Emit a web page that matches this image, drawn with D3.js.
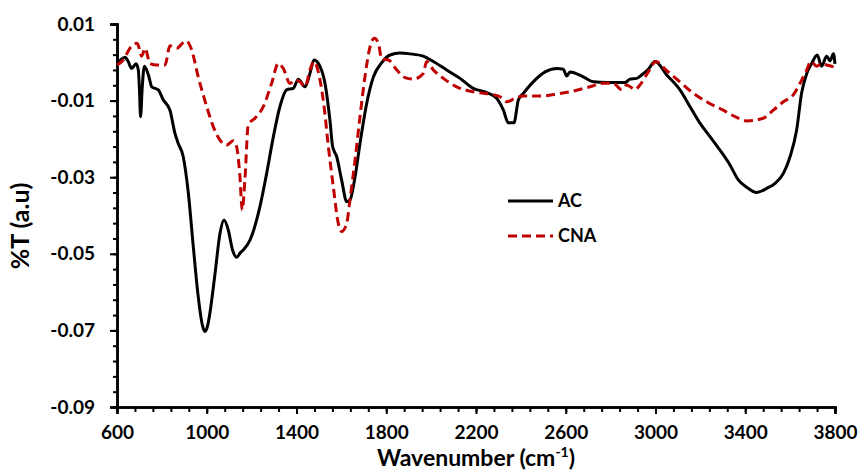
<!DOCTYPE html>
<html>
<head>
<meta charset="utf-8">
<script src="https://cdn.jsdelivr.net/npm/d3@7"></script>
<style>
  body { margin: 0; background: #fff; }
  text { font-family: Lato, "Open Sans", sans-serif; font-weight: bold; fill: #000; }
</style>
</head>
<body>
<div id="chart"></div>
<script>
// wavenumber / %T readings for each sample
var acWave = [600, 620, 636, 650, 665, 685, 695, 700, 705, 712, 722, 740, 755, 784, 806, 836, 858, 873, 895, 918,
    940, 962, 980, 992, 1005, 1014, 1037, 1059, 1077, 1096, 1115, 1133, 1150, 1163, 1193, 1237, 1267, 1297, 1326,
    1356, 1386, 1408, 1438, 1460, 1478, 1505, 1527, 1549, 1561, 1579, 1601, 1624, 1638, 1661, 1683, 1713, 1743,
    1780, 1817, 1861, 1906, 1965, 2010, 2069, 2129, 2188, 2248, 2292, 2322, 2344, 2369, 2389, 2411, 2455, 2508,
    2560, 2589, 2604, 2619, 2678, 2723, 2783, 2864, 2886, 2916, 2938, 2968, 2998, 3050, 3109, 3154, 3198, 3243,
    3287, 3332, 3369, 3406, 3451, 3496, 3533, 3570, 3600, 3629, 3651, 3674, 3696, 3721, 3740, 3763, 3778, 3793, 3800];
var acT = [-0.0003, 0.0008, 0.0013, 0.0002, -0.0016, -0.0004, -0.002, -0.007, -0.0142, -0.007, -0.001, -0.0033,
    -0.0064, -0.0072, -0.0098, -0.0125, -0.0185, -0.0212, -0.0246, -0.0342, -0.0481, -0.0612, -0.0685, -0.0703,
    -0.0685, -0.0655, -0.0551, -0.0447, -0.0412, -0.0438, -0.049, -0.0509, -0.0497, -0.049, -0.0464, -0.0377,
    -0.029, -0.0194, -0.0116, -0.0072, -0.0068, -0.0044, -0.0064, -0.0029, 0.0006, -0.0011, -0.0055, -0.0151,
    -0.022, -0.0246, -0.0307, -0.0364, -0.036, -0.0299, -0.0212, -0.0107, -0.0038, -0.0001, 0.0019, 0.0024, 0.0022,
    0.0016, 0.0002, -0.002, -0.0042, -0.0068, -0.0079, -0.0094, -0.0125, -0.0158, -0.0158, -0.0098, -0.0081,
    -0.0051, -0.0025, -0.0016, -0.0018, -0.0036, -0.0025, -0.0038, -0.0051, -0.0053, -0.0053, -0.0044, -0.0042,
    -0.0033, -0.0018, 0.0002, -0.0033, -0.0072, -0.0116, -0.0159, -0.0194, -0.0229, -0.0268, -0.0307, -0.0326,
    -0.034, -0.0329, -0.0316, -0.029, -0.0246, -0.0177, -0.0081, -0.0029, -0.0003, 0.0019, -0.001, 0.0016, 0.0004,
    0.0022, -0.0004];

var cnaWave = [600, 628, 658, 690, 710, 725, 747, 777, 814, 836, 866, 907, 933, 962, 1000, 1029, 1059, 1089, 1118,
    1133, 1148, 1158, 1170, 1185, 1215, 1252, 1289, 1319, 1341, 1371, 1393, 1416, 1438, 1460, 1478, 1502, 1523,
    1542, 1564, 1586, 1601, 1624, 1638, 1661, 1683, 1705, 1728, 1747, 1765, 1780, 1809, 1847, 1884, 1921, 1965,
    1980, 2010, 2055, 2114, 2188, 2262, 2307, 2337, 2374, 2411, 2485, 2560, 2634, 2708, 2767, 2812, 2849, 2871,
    2909, 2931, 2968, 3002, 3050, 3109, 3169, 3228, 3302, 3362, 3406, 3480, 3525, 3570, 3614, 3644, 3674, 3692,
    3718, 3740, 3763, 3800];
var cnaT = [-0.0007, 0.0006, 0.0037, 0.005, 0.0016, 0.0037, -0.0003, -0.0007, -0.0007, 0.0043, 0.0037, 0.0056,
    0.0032, -0.0038, -0.0116, -0.0168, -0.0203, -0.0216, -0.0205, -0.022, -0.0299, -0.0386, -0.0307, -0.0163,
    -0.0146, -0.0116, -0.0055, -0.0003, -0.0016, -0.0055, -0.0046, -0.0051, -0.0064, -0.002, 0.0002, -0.0038,
    -0.0116, -0.022, -0.0325, -0.042, -0.0442, -0.042, -0.036, -0.0255, -0.0142, -0.0038, 0.0041, 0.0063, 0.005,
    0.0008, 0.0006, -0.002, -0.004, -0.0044, -0.0029, 0.0002, -0.002, -0.0042, -0.0064, -0.0077, -0.0083, -0.009,
    -0.0103, -0.0094, -0.0088, -0.0088, -0.0083, -0.0075, -0.0064, -0.0055, -0.0055, -0.0071, -0.0059, -0.0071,
    -0.0059, -0.0025, 0.0002, -0.0022, -0.0051, -0.0081, -0.0103, -0.0125, -0.0144, -0.0153, -0.0146, -0.0125,
    -0.0103, -0.0085, -0.0055, -0.002, 0.0002, -0.001, -0.0004, -0.0007, -0.0013];

var xTicks = [600, 1000, 1400, 1800, 2200, 2600, 3000, 3400, 3800];
var yTicks = [0.01, -0.01, -0.03, -0.05, -0.07, -0.09];
var seriesNames = ["AC", "CNA"];

var width = 861, height = 472;
// plot box (note: "top" is reserved on window, so use plot* names)
var plotLeft = 117, plotRight = 835, plotTop = 24, plotBottom = 407;

var svg = d3.select("#chart").append("svg")
    .attr("width", width)
    .attr("height", height);

var x = d3.scaleLinear().domain([600, 3800]).range([plotLeft, plotRight]);
var y = d3.scaleLinear().domain([-0.09, 0.01]).range([plotBottom, plotTop]);

// minor ticks: 5 per major interval
var xMinor = d3.range(600, 3800.1, 80);
var yMinor = d3.range(0, 26).map(function (i) { return 0.01 - i * 0.004; });

var minorX = svg.append("g")
    .attr("transform", "translate(0," + plotBottom + ")")
    .call(d3.axisBottom(x).tickValues(xMinor).tickSize(5).tickFormat(""));
var minorY = svg.append("g")
    .attr("transform", "translate(" + plotLeft + ",0)")
    .call(d3.axisLeft(y).tickValues(yMinor).tickSize(4).tickFormat(""));

var xAxis = svg.append("g")
    .attr("transform", "translate(0," + plotBottom + ")")
    .call(d3.axisBottom(x).tickValues(xTicks).tickSize(7).tickPadding(12).tickFormat(d3.format("d")));
var yAxis = svg.append("g")
    .attr("transform", "translate(" + plotLeft + ",0)")
    .call(d3.axisLeft(y).tickValues(yTicks).tickSize(7).tickPadding(15)
        .tickFormat(function (d) { return d.toFixed(2); }));

[minorX, minorY, xAxis, yAxis].forEach(function (g) {
    g.selectAll("path").attr("stroke", "#000").attr("stroke-width", 2.5);
    g.selectAll("line").attr("stroke", "#000").attr("stroke-width", 2);
});
xAxis.selectAll("text").style("font-size", "19px").style("font-family", "Lato, sans-serif").style("font-weight", "bold").attr("fill", "#000");
yAxis.selectAll("text").style("font-size", "19px").style("font-family", "Lato, sans-serif").style("font-weight", "bold").attr("fill", "#000");

var line = d3.line()
    .x(function (d) { return x(d[0]); })
    .y(function (d) { return y(d[1]); })
    .curve(d3.curveMonotoneX);

var acData = acWave.map(function (w, i) { return [w, acT[i]]; });
var cnaData = cnaWave.map(function (w, i) { return [w, cnaT[i]]; });

svg.append("path")
    .datum(acData)
    .attr("d", line)
    .attr("fill", "none")
    .attr("stroke", "#000")
    .attr("stroke-width", 3)
    .attr("stroke-linejoin", "round");

svg.append("path")
    .datum(cnaData)
    .attr("d", line)
    .attr("fill", "none")
    .attr("stroke", "#C00000")
    .attr("stroke-width", 3)
    .attr("stroke-dasharray", "9,5");

// legend
var legend = svg.append("g").attr("transform", "translate(508,201)");
seriesNames.forEach(function (name, i) {
    var row = legend.append("g").attr("transform", "translate(0," + (i * 35) + ")");
    row.append("line")
        .attr("x1", 0).attr("x2", 45).attr("y1", 0).attr("y2", 0)
        .attr("stroke", i == 0 ? "#000" : "#C00000")
        .attr("stroke-width", 3)
        .attr("stroke-dasharray", i == 0 ? null : "9,5");
    row.append("text")
        .attr("x", 50).attr("y", 6)
        .style("font-size", "18px")
        .text(name);
});

// axis titles
var xTitle = svg.append("text")
    .attr("x", 476).attr("y", 466)
    .attr("text-anchor", "middle")
    .style("font-size", "23px");
xTitle.append("tspan").text("Wavenumber (cm");
xTitle.append("tspan").attr("dy", -9).style("font-size", "14px").text("-1");
xTitle.append("tspan").attr("dy", 9).text(")");

svg.append("text")
    .attr("transform", "translate(29,226) rotate(-90)")
    .attr("text-anchor", "middle")
    .style("font-size", "25px")
    .text("%T (a.u)");
</script>
</body>
</html>
